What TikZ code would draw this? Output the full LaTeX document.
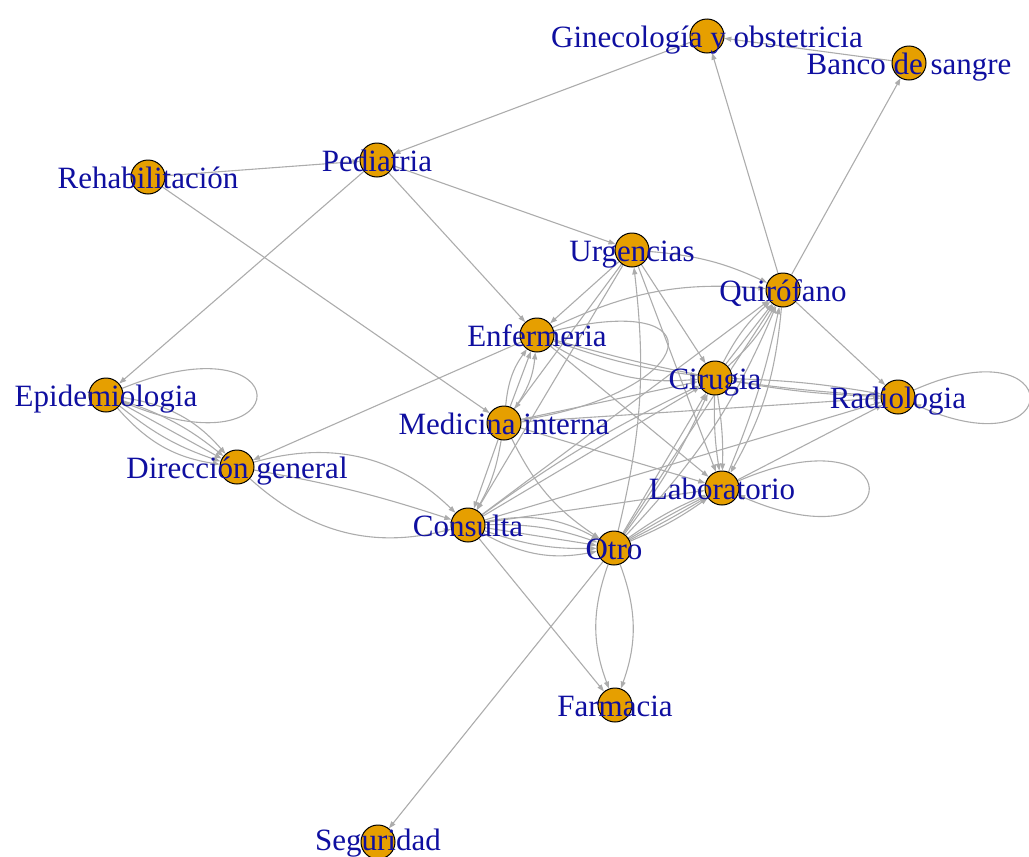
\documentclass[tikz,border=0pt]{standalone}
\usepackage{fontspec}
\setmainfont{Liberation Serif}
\usetikzlibrary{arrows.meta}
\pgfdeclarelayer{bg}
\pgfsetlayers{bg,main}
\definecolor{vfill}{RGB}{230,159,0}
\definecolor{egray}{RGB}{172,172,172}
\definecolor{lblue}{RGB}{15,15,160}
\begin{document}
\begin{tikzpicture}[x=1pt,y=1pt,
  vtx/.style={circle,draw=black,line width=1pt,fill=vfill,minimum size=34pt,inner sep=0pt},
  lbl/.style={text=lblue,font=\fontsize{31}{31}\selectfont,anchor=base,inner sep=0pt},
  e/.style={draw=egray,line width=1.1pt,-{Triangle[length=7pt,width=5pt]}}]
\useasboundingbox (0,0) rectangle (1029,-857);
% vertices
\node[vtx] (gin) at (707,-36) {};
\node[vtx] (ban) at (909,-63) {};
\node[vtx] (ped) at (377,-160) {};
\node[vtx] (reh) at (148,-177) {};
\node[vtx] (urg) at (632,-250) {};
\node[vtx] (qui) at (783,-290) {};
\node[vtx] (enf) at (537,-335) {};
\node[vtx] (cir) at (715,-378) {};
\node[vtx] (epi) at (106,-395) {};
\node[vtx] (rad) at (898,-397) {};
\node[vtx] (med) at (504,-423) {};
\node[vtx] (dir) at (237,-467) {};
\node[vtx] (lab) at (722,-488) {};
\node[vtx] (con) at (468,-525) {};
\node[vtx] (otr) at (614,-548) {};
\node[vtx] (far) at (615,-705) {};
\node[vtx] (seg) at (378,-842) {};
% labels
\node[lbl] (lgin) at (707,-47) {Ginecología y obstetricia};
\node[lbl] (lban) at (909,-74) {Banco de sangre};
\node[lbl] (lped) at (377,-171) {Pediatria};
\node[lbl] (lreh) at (148,-188) {Rehabilitación};
\node[lbl] (lurg) at (632,-261) {Urgencias};
\node[lbl] (lqui) at (783,-301) {Quirófano};
\node[lbl] (lenf) at (537,-346) {Enfermeria};
\node[lbl] (lcir) at (715,-389) {Cirugia};
\node[lbl] (lepi) at (106,-406) {Epidemiologia};
\node[lbl] (lrad) at (898,-408) {Radiologia};
\node[lbl] (lmed) at (504,-434) {Medicina interna};
\node[lbl] (ldir) at (237,-478) {Dirección general};
\node[lbl] (llab) at (722,-499) {Laboratorio};
\node[lbl] (lcon) at (468,-536) {Consulta};
\node[lbl] (lotr) at (614,-559) {Otro};
\node[lbl] (lfar) at (615,-716) {Farmacia};
\node[lbl] (lseg) at (378,-850) {Seguridad};
% edges
\begin{pgfonlayer}{bg}
\draw[e] (gin) -- (ped);
\draw[e] (ban) -- (gin);
\draw[e] (qui) -- (gin);
\draw[e] (qui) -- (ban);
\draw[e] (reh) -- (ped);
\draw[e] (reh) -- (med);
\draw[e] (ped) -- (epi);
\draw[e] (ped) -- (enf);
\draw[e] (ped) -- (urg);
\draw[e] (enf) -- (dir);
% loops
\draw[e] (epi) .. controls +(195,80) and +(195,-80) .. (epi);
\draw[e] (rad) .. controls +(170,75) and +(170,-75) .. (rad);
\draw[e] (lab) .. controls +(190,82) and +(190,-82) .. (lab);
% epidemiologia - direccion
\draw[e] (epi) to[bend left=20] (dir);
\draw[e] (epi) to[bend left=10] (dir);
\draw[e] (epi) -- (dir);
\draw[e] (epi) to[bend right=10] (dir);
\draw[e] (epi) to[bend right=20] (dir);
% direccion - consulta
\draw[e] (dir) to[bend left=30] (con);
\draw[e] (dir) to[bend left=4] (con);
\draw[e] (dir) to[bend right=28] (con);
% lower part
\draw[e] (con) -- (far);
\draw[e] (otr) -- (seg);
\draw[e] (otr) to[bend left=20] (far);
\draw[e] (otr) to[bend right=20] (far);
% central cluster
\draw[e] (qui) -- (rad);
\draw[e] (urg) to[bend left=10] (qui);
\draw[e] (urg) -- (enf);
\draw[e] (urg) -- (med);
\draw[e] (urg) -- (con);
\draw[e] (urg) -- (lab);
\draw[e] (urg) -- (cir);
\draw[e] (med) to[bend left=15] (enf);
\draw[e] (med) -- (enf);
\draw[e] (med) to[bend right=15] (enf);
\draw[e] (enf) to[bend left=15] (qui);
\draw[e] (enf) to[bend right=6] (cir);
\draw[e] (enf) to[bend right=18] (cir);
\draw[e] (enf) .. controls (720,-290) and (700,-390) .. (med);
\draw[e] (enf) to[bend right=6] (rad);
\draw[e] (enf) -- (lab);
\draw[e] (cir) to[bend left=10] (qui);
\draw[e] (cir) -- (qui);
\draw[e] (cir) to[bend right=10] (qui);
\draw[e] (cir) to[bend left=4] (rad);
\draw[e] (cir) to[bend right=4] (rad);
\draw[e] (med) -- (rad);
\draw[e] (lab) -- (rad);
\draw[e] (lab) to[bend right=5] (qui);
\draw[e] (qui) to[bend left=12] (lab);
\draw[e] (med) -- (cir);
\draw[e] (med) -- (lab);
\draw[e] (med) to[bend right=15] (otr);
\draw[e] (med) -- (con);
\draw[e] (med) to[bend left=10] (con);
\draw[e] (con) to[bend left=20] (otr);
\draw[e] (con) to[bend left=10] (otr);
\draw[e] (con) -- (otr);
\draw[e] (con) to[bend right=10] (otr);
\draw[e] (con) to[bend right=20] (otr);
\draw[e] (con) -- (cir);
\draw[e] (con) to[bend left=5] (cir);
\draw[e] (con) -- (qui);
\draw[e] (con) -- (lab);
\draw[e] (con) -- (rad);
\draw[e] (otr) to[bend left=6] (lab);
\draw[e] (otr) to[bend left=2] (lab);
\draw[e] (otr) to[bend right=2] (lab);
\draw[e] (otr) to[bend right=6] (lab);
\draw[e] (otr) -- (cir);
\draw[e] (otr) to[bend right=6] (cir);
\draw[e] (otr) -- (qui);
\draw[e] (otr) to[bend right=10] (qui);
\draw[e] (otr) to[bend right=10] (urg);
\draw[e] (cir) to[bend left=5] (lab);
\draw[e] (cir) to[bend right=5] (lab);
\end{pgfonlayer}
\end{tikzpicture}
\end{document}
